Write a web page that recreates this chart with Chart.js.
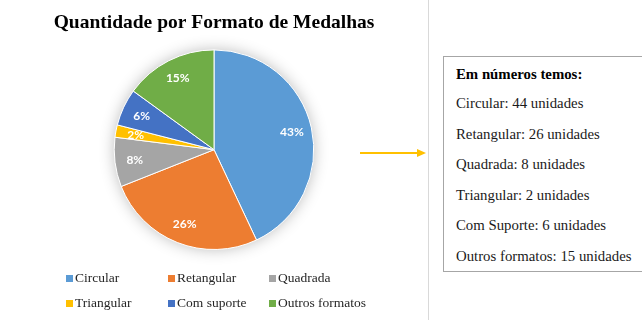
<!DOCTYPE html>
<html>
<head>
<meta charset="utf-8">
<script src="https://cdn.jsdelivr.net/npm/chart.js@4.4.0/dist/chart.umd.min.js"></script>
<style>
    html, body { margin: 0; padding: 0; background: #fff; overflow: hidden; }
    body { width: 642px; height: 320px; position: relative; font-family: "Liberation Serif", "Times New Roman", serif; }
    #chartWrap { position: absolute; left: 0; top: 0; width: 428px; height: 270px; }
    .legend { position: absolute; left: 0; top: 268px; width: 428px; height: 50px; }
    .legend-item { position: absolute; font-size: 13.5px; color: #262626; white-space: nowrap; line-height: 16px; }
    .legend-item span.box { position: absolute; left: -9px; top: 5px; width: 7px; height: 7px; }
    .divider { position: absolute; left: 428px; top: 0; width: 1px; height: 320px; background: #d9d9d9; }
    .info { position: absolute; left: 443px; top: 56px; width: 210px; height: 216px; border: 1px solid #a6a6a6; box-sizing: border-box; }
    .info div { position: absolute; left: 12px; font-size: 14.8px; color: #1a1a1a; white-space: nowrap; line-height: 16px; }
    .info div.head { font-weight: bold; color: #000; }
    svg.arrow { position: absolute; left: 355px; top: 145px; }
</style>
</head>
<body>
<div id="chartWrap"><canvas id="pieChart"></canvas></div>
<div class="legend" id="legend"></div>
<div class="divider"></div>
<svg class="arrow" width="75" height="16">
    <line x1="5" y1="8" x2="64" y2="8" stroke="#FFC000" stroke-width="2"/>
    <polygon points="62,4 71,8 62,12" fill="#FFC000"/>
</svg>
<div class="info" id="info"></div>

<script>
// Data
const categories = ['Circular', 'Retangular', 'Quadrada', 'Triangular', 'Com suporte', 'Outros formatos'];
const percents = [43, 26, 8, 2, 6, 15];
const boxLabels = ['Circular', 'Retangular', 'Quadrada', 'Triangular', 'Com Suporte', 'Outros formatos'];
const units = [44, 26, 8, 2, 6, 15];
const colors = ['#5B9BD5', '#ED7D31', '#A5A5A5', '#FFC000', '#4472C4', '#70AD47'];

// soft shadow under the pie, like the Excel style
const pieShadow = {
    id: 'pieShadow',
    beforeDatasetsDraw(chart) {
        const arc = chart.getDatasetMeta(0).data[0];
        if (!arc) return;
        const ctx = chart.ctx;
        ctx.save();
        ctx.shadowColor = 'rgba(0,0,0,0.3)';
        ctx.shadowBlur = 16;
        ctx.fillStyle = '#ffffff';
        ctx.beginPath();
        ctx.arc(arc.x, arc.y, arc.outerRadius - 1, 0, Math.PI * 2);
        ctx.fill();
        ctx.restore();
    }
};

// percentage labels inside slices
const sliceLabels = {
    id: 'sliceLabels',
    afterDatasetsDraw(chart) {
        const ctx = chart.ctx;
        const meta = chart.getDatasetMeta(0);
        ctx.save();
        ctx.font = 'bold 12px Lato, "Open Sans", sans-serif';
        ctx.fillStyle = '#ffffff';
        ctx.textAlign = 'center';
        ctx.textBaseline = 'middle';
        meta.data.forEach((arc, i) => {
            const mid = (arc.startAngle + arc.endAngle) / 2;
            const r = arc.outerRadius * 0.8;
            ctx.fillText(percents[i] + '%', arc.x + Math.cos(mid) * r, arc.y + Math.sin(mid) * r);
        });
        ctx.restore();
    }
};

const ctx = document.getElementById('pieChart').getContext('2d');
new Chart(ctx, {
    type: 'pie',
    data: {
        labels: categories,
        datasets: [{
            data: percents,
            backgroundColor: colors,
            borderColor: '#ffffff',
            borderWidth: 1
        }]
    },
    options: {
        responsive: true,
        maintainAspectRatio: false,
        animation: false,
        layout: { padding: { bottom: 20, left: 0, right: 0 } },
        plugins: {
            title: {
                display: true,
                text: 'Quantidade por Formato de Medalhas',
                color: '#000',
                font: { family: '"Liberation Serif", "Times New Roman", serif', size: 19.5, weight: 'bold' },
                padding: { top: 11, bottom: 15 }
            },
            legend: { display: false },
            tooltip: { enabled: false }
        }
    },
    plugins: [pieShadow, sliceLabels]
});

// legend in 3 columns, 2 rows
const legendEl = document.getElementById('legend');
const colX = [75, 177, 278];
const rowY = [2, 27];
categories.forEach((name, i) => {
    const item = document.createElement('div');
    item.className = 'legend-item';
    item.style.left = colX[i % 3] + 'px';
    item.style.top = rowY[Math.floor(i / 3)] + 'px';
    item.innerHTML = '<span class="box" style="background:' + colors[i] + '"></span>' + name;
    legendEl.appendChild(item);
});

// text box
const infoEl = document.getElementById('info');
const head = document.createElement('div');
head.className = 'head';
head.style.top = '9px';
head.textContent = 'Em números temos:';
infoEl.appendChild(head);
boxLabels.forEach((name, i) => {
    const line = document.createElement('div');
    line.style.top = (38 + i * 30.6) + 'px';
    line.textContent = name + ': ' + units[i] + ' unidades';
    infoEl.appendChild(line);
});
</script>
</body>
</html>
